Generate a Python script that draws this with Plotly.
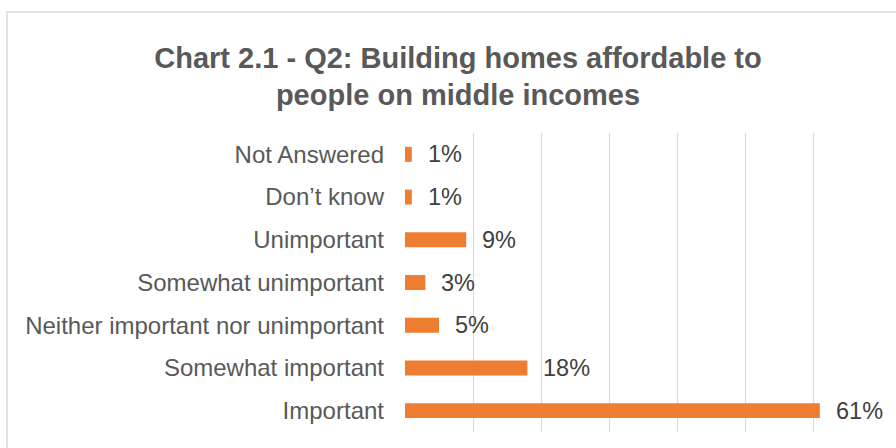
import plotly.graph_objects as go

# Survey responses, listed top to bottom as displayed
categories = [
    "Not Answered",
    "Don\u2019t know",
    "Unimportant",
    "Somewhat unimportant",
    "Neither important nor unimportant",
    "Somewhat important",
    "Important",
]
percent_values = [1, 1, 9, 3, 5, 18, 61]
x_ticks = [0, 10, 20, 30, 40, 50, 60, 70]

W, H = 896, 448
L, R, T, B = 405, 15, 133, 16
plot_w = W - L - R
plot_h = H - T - B

BAR_COLOR = "#ED7D31"
GRID_COLOR = "#D9D9D9"
LABEL_COLOR = "#595959"
VALUE_COLOR = "#404040"
FONT = "Liberation Sans, Arial, sans-serif"

fig = go.Figure(
    go.Bar(
        x=percent_values,
        y=categories,
        orientation="h",
        marker=dict(color=BAR_COLOR, line=dict(width=0)),
        hoverinfo="skip",
    )
)

# value labels to the right of each bar
for cat, val in zip(categories, percent_values):
    fig.add_annotation(
        x=val, y=cat, xref="x", yref="y",
        text=f"{val}%", showarrow=False,
        xanchor="left", yanchor="middle", xshift=14,
        font=dict(family=FONT, size=23.5, color=VALUE_COLOR),
    )

# chart-area border (runs off the right and bottom edges)
px_to_x = lambda px: (px - L) / plot_w
px_to_y = lambda py: (H - B - py) / plot_h
fig.add_shape(
    type="rect", xref="paper", yref="paper",
    x0=px_to_x(7), x1=px_to_x(W + 20),
    y0=px_to_y(H + 20), y1=px_to_y(12),
    line=dict(color=GRID_COLOR, width=1.5),
    fillcolor="rgba(0,0,0,0)", layer="below",
)

fig.update_layout(
    width=W, height=H,
    margin=dict(l=L, r=R, t=T, b=B, pad=0),
    paper_bgcolor="white", plot_bgcolor="white",
    showlegend=False,
    bargap=0.65,
    title=dict(
        text="Chart 2.1 - Q2: Building homes affordable to<br>people on middle incomes",
        x=458 / W, xanchor="center", xref="container",
        y=1 - 67.5 / H, yanchor="middle", yref="container",
        font=dict(family=FONT, size=29, color=LABEL_COLOR, weight="bold"),
    ),
    xaxis=dict(
        range=[0, 70], tickvals=x_ticks, showticklabels=False,
        showgrid=True, gridcolor=GRID_COLOR, gridwidth=1,
        zeroline=False, showline=False, ticks="", fixedrange=True,
    ),
    yaxis=dict(
        autorange="reversed", showgrid=False, zeroline=False,
        showline=False, ticks="", ticklabelstandoff=20,
        tickfont=dict(family=FONT, size=24, color=LABEL_COLOR),
        fixedrange=True,
    ),
)

fig.write_html("out.html")
